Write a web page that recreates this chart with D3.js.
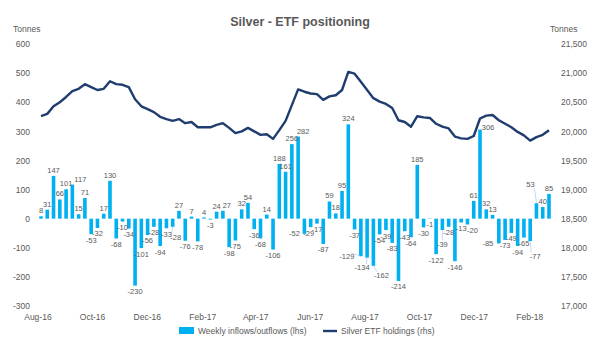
<!DOCTYPE html>
<html><head><meta charset="utf-8">
<script src="https://cdn.jsdelivr.net/npm/d3@7"></script>
<style>body{margin:0;background:#fff}svg{display:block}text{font-family:"Liberation Sans",Arial,sans-serif;fill:#595959}</style>
</head><body><svg id="c" width="610" height="346"></svg>
<script>
const firstWeek = "2016-08-05";
const lastWeek = "2018-02-23";
const flows = [8,31,147,66,101,117,15,71,-53,-32,17,130,-68,-10,-34,-230,-101,-56,-28,-94,-33,-28,27,-76,7,-78,4,-3,24,27,-98,-75,32,54,-36,-68,14,-106,188,161,256,282,-52,-29,-17,-87,59,18,95,324,-37,-129,-134,-162,-54,-39,-83,-214,-43,-64,185,-30,-1,-122,-39,-28,-146,-13,-20,61,306,32,13,-85,-73,-49,-94,-65,-77,53,40,85];
const holdings = [20260,20300,20430,20500,20590,20690,20730,20810,20760,20710,20730,20860,20810,20800,20760,20550,20430,20380,20330,20250,20210,20180,20210,20140,20160,20070,20070,20070,20110,20140,20060,19970,20000,20060,20000,19940,19950,19870,20020,20180,20450,20720,20680,20650,20640,20540,20600,20620,20710,21020,20990,20850,20710,20570,20510,20470,20400,20190,20160,20080,20260,20240,20230,20130,20080,20050,19910,19880,19870,19920,20220,20270,20280,20190,20130,20070,19990,19930,19840,19900,19940,20020];
const leftTicks = [600,500,400,300,200,100,0,-100,-200,-300];
const rightTicks = [21500,21000,20500,20000,19500,19000,18500,18000,17500,17000];
const xTickLabels = ["Aug-16","Oct-16","Dec-16","Feb-17","Apr-17","Jun-17","Aug-17","Oct-17","Dec-17","Feb-18"];
const title = "Silver - ETF positioning";
const legendLabels = ["Weekly inflows/outflows (lhs)","Silver ETF holdings (rhs)"];

// data-label placement tweaks (layout only): week index -> [dx, dy, leader line]
const labelNudge = {5:[8,0,0],21:[3,5,1],29:[4,0,0],41:[5,0,0],42:[-10,-6,0],43:[-2,0,0],51:[-14,-6,1],52:[-5,4,1],53:[8,4,1],64:[0,8,1],68:[5,0,0],70:[8,3,0],73:[-11,-6,0],78:[5,9,1],79:[-6,-13,1]};

const loc = d3.formatLocale({decimal: ".", thousands: ",", grouping: [3], currency: ["", ""], minus: "-"});
const fmtInt = loc.format("d"), fmtThou = loc.format(",");

const parseDay = d3.timeParse("%Y-%m-%d");
const parseMonth = d3.timeParse("%b-%y");
const d0 = parseDay(firstWeek), d1 = parseDay(lastWeek);
const weeks = d3.timeFriday.range(d0, d3.timeDay.offset(d1, 1));
const data = weeks.map((d, i) => ({i, date: d, flow: flows[i], hold: holdings[i]}));

const BAR = "#00B0F0", LINE = "#1F3D6E";
const svg = d3.select("#c");
const x = d3.scaleTime().domain([d0, d1]).range([41, 549]);
const yL = d3.scaleLinear().domain([-300, 600]).range([306, 44]);
const yR = d3.scaleLinear().domain([17000, 21500]).range([306, 44]);

svg.append("text").attr("x", 300).attr("y", 26).attr("text-anchor", "middle")
  .style("font-size", "12.5px").style("font-weight", "bold").text(title);
svg.append("text").attr("x", 13).attr("y", 32).style("font-size", "8.5px").text("Tonnes");
svg.append("text").attr("x", 550).attr("y", 32).style("font-size", "8.5px").text("Tonnes");

const axL = svg.append("g").attr("transform", "translate(31,0)")
  .call(d3.axisLeft(yL).tickValues(leftTicks).tickSize(0).tickPadding(1).tickFormat(fmtInt));
const axR = svg.append("g").attr("transform", "translate(560,0)")
  .call(d3.axisRight(yR).tickValues(rightTicks).tickSize(0).tickPadding(1).tickFormat(fmtThou));
const axB = svg.append("g").attr("transform", "translate(0,312)")
  .call(d3.axisBottom(x).tickValues(xTickLabels.map(parseMonth)).tickSize(0).tickPadding(2).tickFormat(d3.timeFormat("%b-%y")));
[axL, axR, axB].forEach(a => { a.select(".domain").remove(); a.selectAll("text").style("font-size", "8.5px").style("font-family", "Liberation Sans, Arial, sans-serif").attr("fill", "#595959"); });

const bw = 3.6;
svg.append("g").selectAll("rect").data(data).join("rect")
  .attr("x", d => x(d.date) - bw / 2).attr("width", bw)
  .attr("y", d => yL(Math.max(0, d.flow)))
  .attr("height", d => Math.abs(yL(d.flow) - yL(0)))
  .attr("fill", BAR);

const lx = d => x(d.date) + (labelNudge[d.i] ? labelNudge[d.i][0] : 0);
const ly = d => (d.flow >= 0 ? yL(d.flow) - 3 : yL(d.flow) + 8.5) + (labelNudge[d.i] ? labelNudge[d.i][1] : 0);

svg.append("g").selectAll("line").data(data.filter(d => labelNudge[d.i] && labelNudge[d.i][2])).join("line")
  .attr("x1", d => x(d.date)).attr("y1", d => yL(d.flow))
  .attr("x2", d => lx(d) - Math.sign(labelNudge[d.i][0]) * 4)
  .attr("y2", d => ly(d) + (d.flow >= 0 ? 1 : -6))
  .attr("stroke", "#9DC3E6").attr("stroke-width", 0.6);

svg.append("g").selectAll("text").data(data).join("text")
  .attr("x", lx).attr("y", ly).attr("text-anchor", "middle")
  .style("font-size", "7.5px").text(d => fmtInt(d.flow));

svg.append("path").datum(data)
  .attr("d", d3.line().x(d => x(d.date)).y(d => yR(d.hold)))
  .attr("fill", "none").attr("stroke", LINE).attr("stroke-width", 2.4).attr("stroke-linejoin", "round");

const lg = svg.append("g").attr("transform", "translate(0,331)");
lg.append("rect").attr("x", 179).attr("y", -4).attr("width", 15).attr("height", 7).attr("fill", BAR);
lg.append("text").attr("x", 198).attr("y", 3).style("font-size", "8.5px").text(legendLabels[0]);
lg.append("line").attr("x1", 323).attr("x2", 337).attr("y1", 0).attr("y2", 0).attr("stroke", LINE).attr("stroke-width", 2.4);
lg.append("text").attr("x", 341).attr("y", 3).style("font-size", "8.5px").text(legendLabels[1]);
</script></body></html>
